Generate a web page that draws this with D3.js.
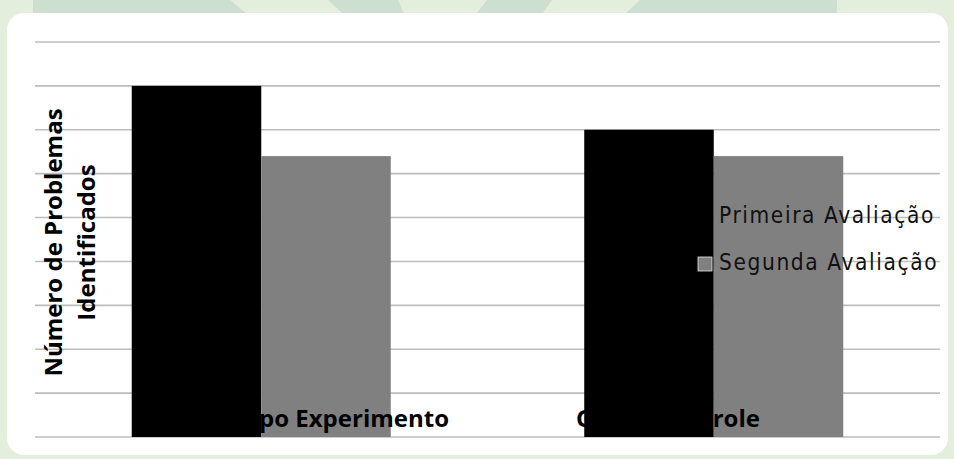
<!DOCTYPE html>
<html>
<head>
<meta charset="utf-8">
<script src="https://cdn.jsdelivr.net/npm/d3@7"></script>
<style>
  body { margin: 0; background: #e3eedc; }
  svg { display: block; }
</style>
</head>
<body>
<div id="chart"></div>
<script>
/* data */
const groups = ["Grupo Experimento", "Grupo Controle"];
const series = ["Primeira Avaliação", "Segunda Avaliação"];
const primeira = [40, 35];
const segunda = [32, 32];
const yTicks = [0, 5, 10, 15, 20, 25, 30, 35, 40, 45];
const yTitle = ["Número de Problemas", "Identificados"];

const colors = { "Primeira Avaliação": "#000000", "Segunda Avaliação": "#808080" };

const width = 954, height = 459;
const plot = { left: 35, right: 940, top: 42, bottom: 437 };

const svg = d3.select("#chart").append("svg")
    .attr("width", width)
    .attr("height", height);

// slide template background
svg.append("rect").attr("width", width).attr("height", height).attr("fill", "#e3eedc");
const stripes = [
    [[33, 0], [230, 0], [247, 14], [33, 14]],
    [[328, 0], [398, 0], [404, 14], [343, 14]],
    [[487, 0], [552, 0], [542, 14], [476, 14]],
    [[640, 0], [837, 0], [837, 14], [625, 14]]
];
svg.append("g").selectAll("polygon").data(stripes).enter().append("polygon")
    .attr("points", d => d.map(p => p.join(",")).join(" "))
    .attr("fill", "#cddfd1");

// white card
svg.append("rect")
    .attr("x", 7).attr("y", 13)
    .attr("width", 941).attr("height", 442)
    .attr("rx", 17)
    .attr("fill", "#ffffff");

const rows = groups.map((g, i) => ({ group: g, values: [primeira[i], segunda[i]] }));

const x0 = d3.scaleBand()
    .domain(groups)
    .range([plot.left, plot.right])
    .paddingInner(0.4276)
    .paddingOuter(0.2138);

const x1 = d3.scaleBand()
    .domain(series)
    .range([0, x0.bandwidth()])
    .padding(0);

const y = d3.scaleLinear()
    .domain([0, 45])
    .range([plot.bottom, plot.top]);

// gridlines
svg.append("g")
    .attr("class", "grid")
    .selectAll("line").data(yTicks).enter().append("line")
    .attr("x1", plot.left).attr("x2", plot.right)
    .attr("y1", d => y(d)).attr("y2", d => y(d))
    .attr("stroke", "#bdbdbd")
    .attr("stroke-width", 1.6);

// y axis title (rotated, two lines)
const titleG = svg.append("g")
    .attr("transform", `translate(0, ${(plot.top + plot.bottom) / 2 + 3}) rotate(-90)`);
titleG.selectAll("text").data(yTitle).enter().append("text")
    .attr("x", 0)
    .attr("y", (d, i) => 62 + i * 33)
    .attr("text-anchor", "middle")
    .style("font-family", "'Open Sans', 'Liberation Sans', sans-serif")
    .style("font-weight", "bold")
    .style("font-size", "24px")
    .attr("fill", "#000")
    .text(d => d);

// bars
const gBars = svg.append("g").selectAll("g").data(rows).enter().append("g")
    .attr("transform", d => `translate(${x0(d.group)},0)`);
gBars.selectAll("rect")
    .data(d => d.values.map((v, i) => ({ key: series[i], value: v })))
    .enter().append("rect")
    .attr("x", d => x1(d.key))
    .attr("y", d => y(d.value))
    .attr("width", x1.bandwidth())
    .attr("height", d => y(0) - y(d.value))
    .attr("fill", d => colors[d.key]);

// category labels (black text, lost on the black bars)
const labelX = d3.scalePoint().domain(groups).range([332, 668]);
svg.append("g").selectAll("text").data(groups).enter().append("text")
    .attr("x", d => labelX(d))
    .attr("y", plot.bottom - 10)
    .attr("text-anchor", "middle")
    .style("font-family", "'Open Sans', 'Liberation Sans', sans-serif")
    .style("font-weight", "bold")
    .style("font-size", "24px")
    .attr("fill", "#000")
    .text(d => d);

// legend
const legend = svg.append("g").attr("transform", "translate(698, 0)");
const items = legend.selectAll("g").data(series).enter().append("g")
    .attr("transform", (d, i) => `translate(0, ${223 + i * 47})`);
items.append("rect")
    .attr("x", 0).attr("y", -13)
    .attr("width", 14).attr("height", 14)
    .attr("fill", d => colors[d])
    .attr("stroke", (d, i) => i === 0 ? "none" : "#e6e6e6")
    .attr("stroke-width", 0.8);
items.append("text")
    .attr("x", 21)
    .attr("y", 0)
    .style("font-family", "'DejaVu Sans Condensed', 'DejaVu Sans', sans-serif")
    .style("font-size", "22.5px")
    .style("letter-spacing", "1.6px")
    .attr("fill", "#111")
    .text(d => d);
</script>
</body>
</html>
